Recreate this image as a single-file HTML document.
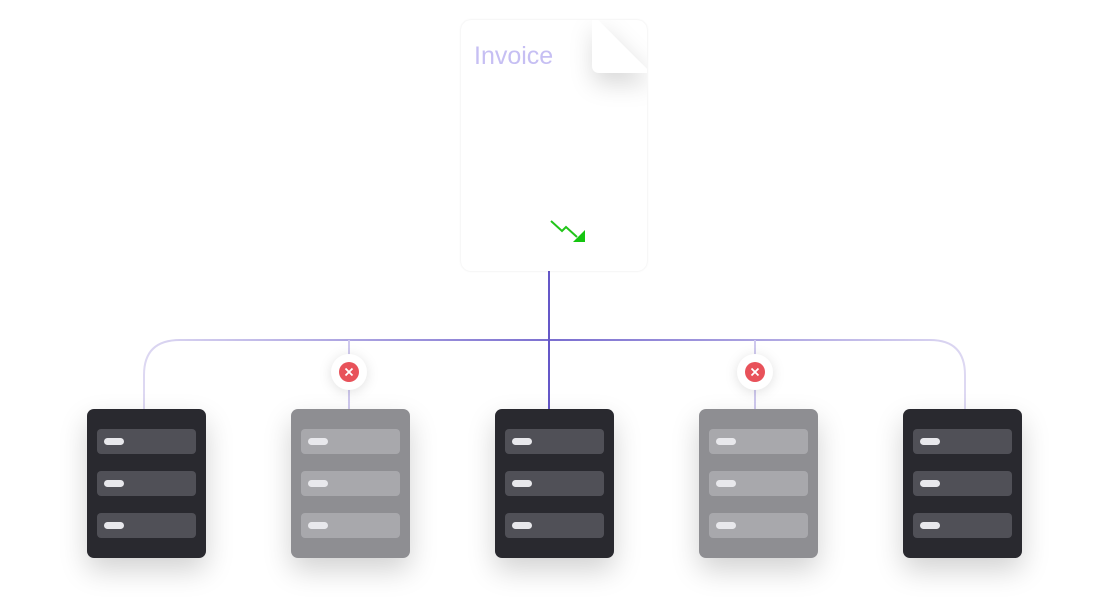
<!DOCTYPE html>
<html><head><style>
body{margin:0;width:1109px;height:600px;background:#fff;position:relative;overflow:hidden;font-family:"Liberation Sans",sans-serif}
.doc{position:absolute;left:461px;top:20px;width:186px;height:251px;background:#fff;border-radius:10px;box-shadow:0 0 2px rgba(0,0,0,.1)}
.srv{position:absolute;top:409px;width:119px;height:149px;border-radius:7px;box-shadow:0 12px 28px rgba(0,0,0,.18)}
.dark{background:#29292f}.grey{background:#8e8e92}
.row{position:absolute;left:10px;width:99px;height:25px;border-radius:4px}
.dark .row{background:#505057}.grey .row{background:#a8a8ac}
.row i{position:absolute;left:7px;top:9px;width:20px;height:7px;border-radius:4px;background:#e8e8ec}
</style></head><body>
<svg width="1109" height="600" style="position:absolute;left:0;top:0">
<defs><linearGradient id="g" x1="0" x2="1"><stop offset="0" stop-color="#ddd8f2"/><stop offset=".5" stop-color="#7b6fd0"/><stop offset="1" stop-color="#ddd8f2"/></linearGradient></defs>
<path d="M144 409 V375 Q144 340 180 340 H930 Q965 340 965 375 V409" fill="none" stroke="url(#g)" stroke-width="2"/>
<line x1="349" y1="340" x2="349" y2="409" stroke="#cfc9ee" stroke-width="2"/>
<line x1="755" y1="340" x2="755" y2="409" stroke="#cfc9ee" stroke-width="2"/>
<line x1="549" y1="271" x2="549" y2="409" stroke="#6558c8" stroke-width="2"/>
</svg>
<div class="doc"></div>
<svg width="1109" height="600" style="position:absolute;left:0;top:0">
<defs><filter id="fs" x="-100%" y="-100%" width="300%" height="300%"><feDropShadow dx="2" dy="10" stdDeviation="12" flood-color="#000" flood-opacity=".16"/></filter>
<clipPath id="dc"><rect x="461" y="20" width="186" height="251" rx="10"/></clipPath></defs>
<g clip-path="url(#dc)">
<path d="M592 20 H598 L647 69 V73 H600 Q592 73 592 65 Z" fill="#fff" filter="url(#fs)"/>
</g>
</svg>
<div style="position:absolute;left:474px;top:42px;font-size:25px;color:#c6bff3">Invoice</div>
<svg width="40" height="30" style="position:absolute;left:550px;top:218px"><polyline points="1,3 12,13 16,9 27,19" fill="none" stroke="#22c51a" stroke-width="2"/><polygon points="35,24 35,12 23,24" fill="#15c510"/></svg>
<svg width="1109" height="600" style="position:absolute;left:0;top:0;filter:drop-shadow(0 2px 6px rgba(0,0,0,.12))">
<circle cx="349" cy="372" r="18" fill="#fff"/><circle cx="755" cy="372" r="18" fill="#fff"/>
</svg>
<svg width="1109" height="600" style="position:absolute;left:0;top:0">
<circle cx="349" cy="372" r="10" fill="#e8525a"/><circle cx="755" cy="372" r="10" fill="#e8525a"/>
<path d="M345.5 368.5l7 7M352.5 368.5l-7 7M751.5 368.5l7 7M758.5 368.5l-7 7" stroke="#fff" stroke-width="1.8"/>
</svg>
<div class="srv dark" style="left:87px"><div class="row" style="top:20px"><i></i></div><div class="row" style="top:62px"><i></i></div><div class="row" style="top:104px"><i></i></div></div>
<div class="srv grey" style="left:291px"><div class="row" style="top:20px"><i></i></div><div class="row" style="top:62px"><i></i></div><div class="row" style="top:104px"><i></i></div></div>
<div class="srv dark" style="left:495px"><div class="row" style="top:20px"><i></i></div><div class="row" style="top:62px"><i></i></div><div class="row" style="top:104px"><i></i></div></div>
<div class="srv grey" style="left:699px"><div class="row" style="top:20px"><i></i></div><div class="row" style="top:62px"><i></i></div><div class="row" style="top:104px"><i></i></div></div>
<div class="srv dark" style="left:903px"><div class="row" style="top:20px"><i></i></div><div class="row" style="top:62px"><i></i></div><div class="row" style="top:104px"><i></i></div></div>
</body></html>
